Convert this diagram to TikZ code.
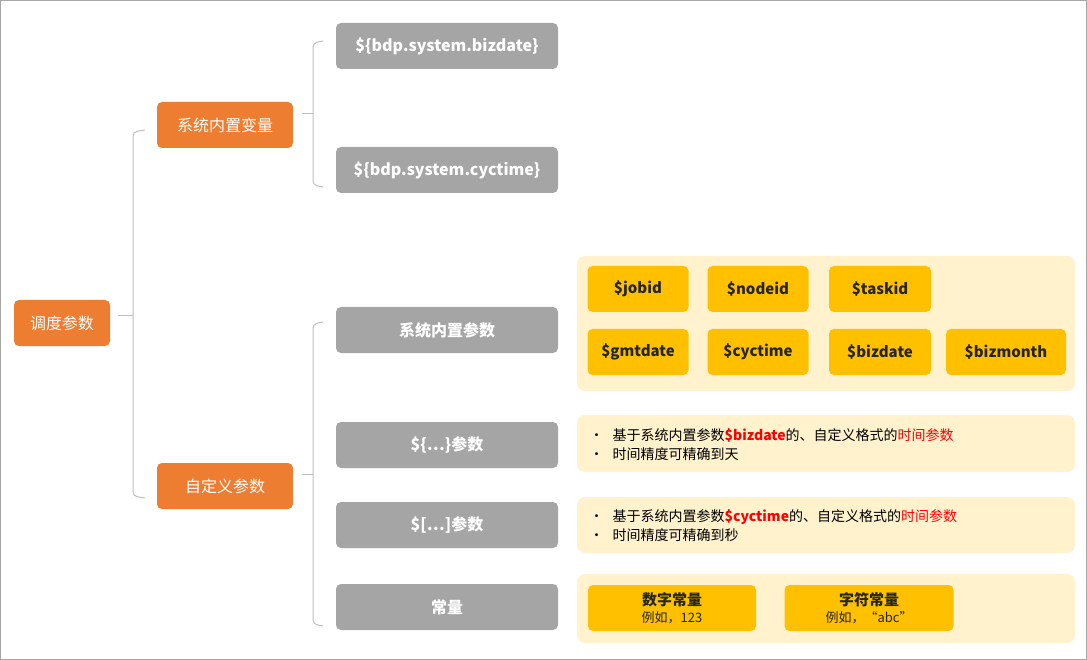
\documentclass[tikz,border=0pt]{standalone}
\usepackage{fontspec}
\setmainfont{Noto Sans CJK SC}
\usepackage{xcolor}
\definecolor{branch}{HTML}{ED7D31}
\definecolor{leafgray}{HTML}{A5A5A5}
\definecolor{chipgold}{HTML}{FFC000}
\definecolor{panelbg}{HTML}{FFF2CC}
\definecolor{bracegray}{HTML}{BFBFBF}
\colorlet{hot}{red}
\tikzset{
  orangebox/.style={fill=branch,rounded corners=5pt,text=white,font=\fontsize{16}{18}\selectfont,anchor=center,inner sep=0pt},
  graybox/.style={fill=leafgray,rounded corners=5pt,text=white,font=\bfseries\fontsize{16}{18}\selectfont,minimum width=222pt,minimum height=46pt,inner sep=0pt},
  chip/.style={fill=chipgold,rounded corners=5pt,text=black!85,font=\bfseries\fontsize{15}{17}\selectfont,minimum height=46pt,inner sep=0pt},
  panel/.style={fill=panelbg,rounded corners=8pt,draw=none},
  brace/.style={draw=bracegray,line width=1pt,rounded corners=4pt},
}
\begin{document}
\begin{tikzpicture}[x=1pt,y=-1pt]
  \useasboundingbox (0,0) rectangle (1087,660);
  \draw[gray!70,line width=1pt] (0.5,0.5) rectangle (1086.5,659.5);

  % panels
  \fill[panelbg,rounded corners=8pt] (577,256) rectangle (1075,391);
  \fill[panelbg,rounded corners=8pt] (577,415) rectangle (1075,472);
  \fill[panelbg,rounded corners=8pt] (577,497) rectangle (1075,553);
  \fill[panelbg,rounded corners=8pt] (577,574) rectangle (1075,643);

  % tree nodes
  \node[orangebox,minimum width=96pt,minimum height=46pt] (root) at (62,323) {调度参数};
  \node[orangebox,minimum width=136pt,minimum height=46pt] (sysvar) at (225,125) {系统内置变量};
  \node[orangebox,minimum width=136pt,minimum height=46pt] (custom) at (225,486) {自定义参数};

  \node[graybox] (bizdate) at (447,46) {\$\{bdp.system.bizdate\}};
  \node[graybox] (cyctime) at (447,170) {\$\{bdp.system.cyctime\}};
  \node[graybox] (sysparam) at (447,330) {系统内置参数};
  \node[graybox] (braceparam) at (447,445) {\$\{…\}参数};
  \node[graybox] (brackparam) at (447,525) {\$[…]参数};
  \node[graybox] (const) at (447,607) {常量};

  % braces
  \coordinate (b1) at (133,316);
  \draw[brace] (145,130) -- (133,132) -- (133,496) -- (145,498);
  \draw[brace] (root.east) ++(8,-7) -- (b1);
  \coordinate (b2) at (313,114);
  \draw[brace] (323,41) -- (313,43) -- (313,185) -- (323,187);
  \draw[brace] (302,114) -- (b2);
  \coordinate (b3) at (313,474);
  \draw[brace] (323,322) -- (313,324) -- (313,624) -- (323,626);
  \draw[brace] (302,474) -- (b3);

  % chips
  \foreach \nm/\cx/\cy/\w in {jobid/638/289/101, nodeid/758/289/101, taskid/880/289/102,
      gmtdate/638/352/101, cyctime/758/352/101, bizdate/880/352/102, bizmonth/1006/352/120}
    \node[chip,minimum width=\w pt] (chip-\nm) at (\cx,\cy) {\$\nm};

  % notes
  \node[anchor=west,align=left,font=\fontsize{14}{19}\selectfont] (note1) at (586,445)
    {•\hspace{9pt}基于系统内置参数{\bfseries\color{hot}\$bizdate}的、自定义格式的{\color{hot}时间参数}\\
     •\hspace{9pt}时间精度可精确到天};
  \node[anchor=west,align=left,font=\fontsize{14}{19}\selectfont] (note2) at (586,526)
    {•\hspace{9pt}基于系统内置参数{\bfseries\color{hot}\$cyctime}的、自定义格式的{\color{hot}时间参数}\\
     •\hspace{9pt}时间精度可精确到秒};

  \node[chip,minimum width=168pt,align=center,font=\fontsize{15}{17}\selectfont] (numconst) at (672,608)
    {{\bfseries 数字常量}\\{\fontsize{13}{15}\selectfont 例如，123}};
  \node[chip,minimum width=169pt,align=center,font=\fontsize{15}{17}\selectfont] (strconst) at (869,608)
    {{\bfseries 字符常量}\\{\fontsize{13}{15}\selectfont 例如，“abc”}};
\end{tikzpicture}
\end{document}
